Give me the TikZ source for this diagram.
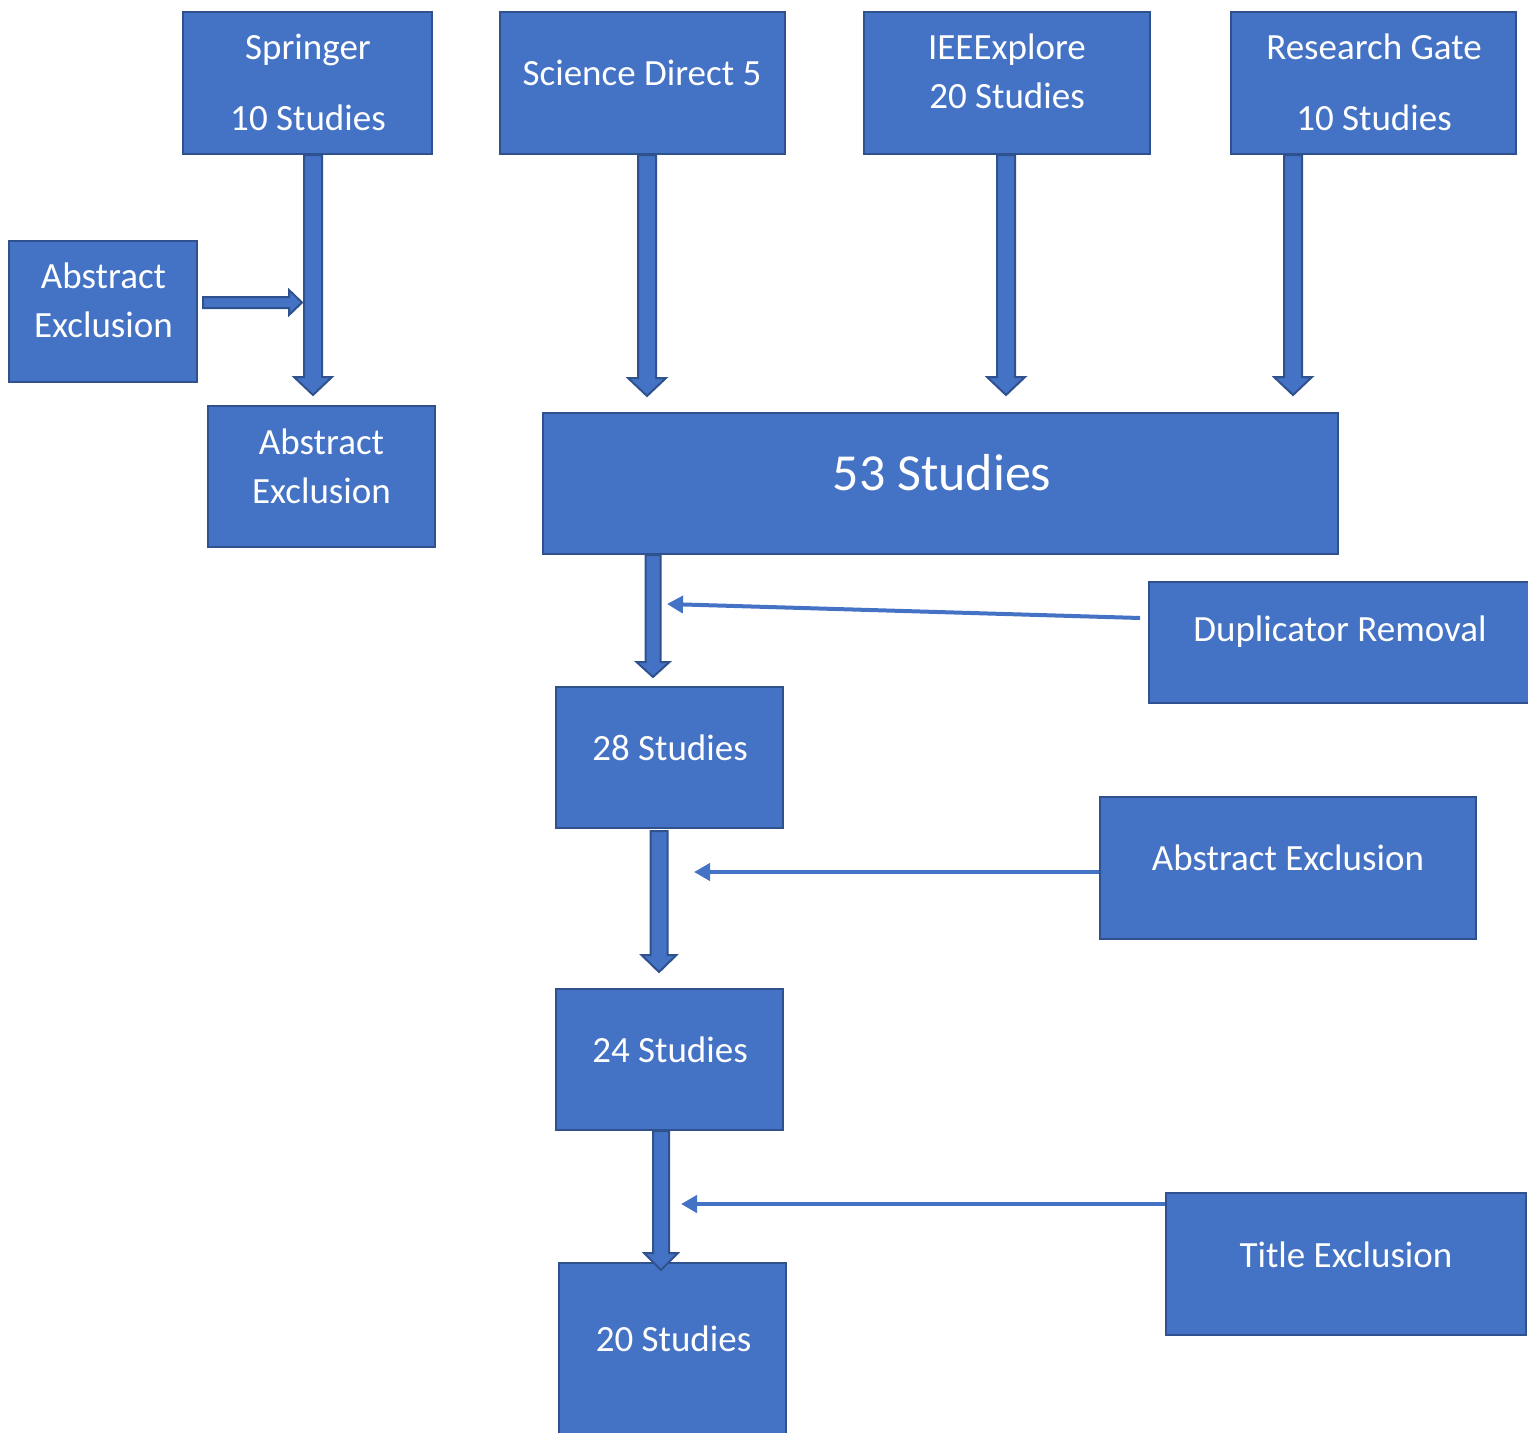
\documentclass[tikz,border=0pt]{standalone}
\usepackage{fontspec}
\setmainfont{Carlito}
\usetikzlibrary{calc,arrows.meta}
\definecolor{BoxBlue}{HTML}{4472C4}
\definecolor{BoxEdge}{HTML}{2F528F}

% block arrow pointing down: start, tip, shaft half width, head half width, head length
\newcommand{\blockdown}[5]{%
  \draw[blockarrow] ($(#1)+(-#3,0)$) -- ($(#2)+(-#3,-#5)$) -- ($(#2)+(-#4,-#5)$) -- (#2)
    -- ($(#2)+(#4,-#5)$) -- ($(#2)+(#3,-#5)$) -- ($(#1)+(#3,0)$) -- cycle;}
% block arrow pointing right
\newcommand{\blockright}[5]{%
  \draw[blockarrow] ($(#1)+(0,-#3)$) -- ($(#2)+(-#5,-#3)$) -- ($(#2)+(-#5,-#4)$) -- (#2)
    -- ($(#2)+(-#5,#4)$) -- ($(#2)+(-#5,#3)$) -- ($(#1)+(0,#3)$) -- cycle;}

\begin{document}
\begin{tikzpicture}[x=1pt, y=-1pt,
  box/.style={draw=BoxEdge, fill=BoxBlue, line width=2pt, inner sep=0pt},
  txt/.style={text=white, align=center, font=\fontsize{37}{49}\selectfont},
  blockarrow/.style={fill=BoxBlue, draw=BoxEdge, line width=2pt, line join=miter},
  thinarrow/.style={draw=BoxBlue, line width=4pt, -{Triangle[length=16pt, width=17pt]}}]
\useasboundingbox (0,0) rectangle (1528,1432);
\clip (0,0) rectangle (1528,1432);

% sources
\node[box, minimum width=249, minimum height=142] (springer) at (307.5,83) {};
\node[txt] (springer-t) at (308,82.5) {Springer\\[22pt]10 Studies};
\node[box, minimum width=285, minimum height=142] (scidirect) at (642.5,83) {};
\node[txt] (scidirect-t) at (642,73) {Science Direct 5};
\node[box, minimum width=286, minimum height=142] (ieee) at (1007,83) {};
\node[txt] (ieee-t) at (1007,71.5) {IEEExplore\\20 Studies};
\node[box, minimum width=285, minimum height=142] (rgate) at (1373.5,83) {};
\node[txt] (rgate-t) at (1374,82.5) {Research Gate\\[22pt]10 Studies};

% springer branch
\node[box, minimum width=188, minimum height=141] (absl) at (103,311.5) {};
\node[txt] (absl-t) at (103.5,300.5) {Abstract\\Exclusion};
\node[box, minimum width=227, minimum height=141] (abss) at (321.5,476.5) {};
\node[txt] (abss-t) at (321.5,466.5) {Abstract\\Exclusion};

% main flow
\node[box, minimum width=795, minimum height=141] (s53) at (940.5,483.5) {};
\node[txt, font=\fontsize{52}{60}\selectfont] (s53-t) at (942,473) {53 Studies};
\node[box, minimum width=385, minimum height=121] (dup) at (1341.5,642.5) {};
\node[txt] (dup-t) at (1340,632) {Duplicator Removal};
\node[box, minimum width=227, minimum height=141] (s28) at (669.5,757.5) {};
\node[txt] (s28-t) at (670,748) {28 Studies};
\node[box, minimum width=376, minimum height=142] (absr) at (1288,868) {};
\node[txt] (absr-t) at (1288,858) {Abstract Exclusion};
\node[box, minimum width=227, minimum height=141] (s24) at (669.5,1059.5) {};
\node[txt] (s24-t) at (670,1050) {24 Studies};
\node[box, minimum width=360, minimum height=142] (title) at (1346,1264) {};
\node[txt] (title-t) at (1346,1255) {Title Exclusion};
\node[box, minimum width=227, minimum height=190] (s20) at (672.5,1358) {};
\node[txt] (s20-t) at (673.5,1339) {20 Studies};

% arrow end points
\coordinate (springer-tip) at (313,395);
\coordinate (scidirect-tip) at (647,396);
\coordinate (ieee-tip) at (1006,395);
\coordinate (rgate-tip) at (1293,395);
\coordinate (absl-tip) at (302,302.5);
\coordinate (s53-tip) at (653,677);
\coordinate (s28-tip) at (659,972);
\coordinate (s24-tip) at (661,1270);
\coordinate (dup-tip) at (667,604);
\coordinate (absr-tip) at (694,872);
\coordinate (title-tip) at (681,1204);

\coordinate (springer-out) at (springer.south -| springer-tip);
\coordinate (scidirect-out) at (scidirect.south -| scidirect-tip);
\coordinate (ieee-out) at (ieee.south -| ieee-tip);
\coordinate (rgate-out) at (rgate.south -| rgate-tip);
\coordinate (absl-out) at ([xshift=5pt]absl.east |- absl-tip);
\coordinate (s53-out) at (s53.south -| s53-tip);
\coordinate (s28-out) at ([yshift=-2pt]s28.south -| s28-tip);
\coordinate (s24-out) at (s24.south -| s24-tip);

% block arrows
\blockdown{springer-out}{springer-tip}{9}{19}{18}
\blockdown{scidirect-out}{scidirect-tip}{9}{19}{18}
\blockdown{ieee-out}{ieee-tip}{9}{19}{18}
\blockdown{rgate-out}{rgate-tip}{9}{19}{18}
\blockright{absl-out}{absl-tip}{5.5}{12.5}{13}
\blockdown{s53-out}{s53-tip}{7.5}{16.5}{15}
\blockdown{s28-out}{s28-tip}{8.5}{17.5}{17}
\blockdown{s24-out}{s24-tip}{8}{17}{17}

% exclusion arrows
\draw[thinarrow] ($(dup.west)+(-8,-24.5)$) -- (dup-tip);
\draw[thinarrow] (absr.west |- absr-tip) -- (absr-tip);
\draw[thinarrow] (title.west |- title-tip) -- (title-tip);
\end{tikzpicture}
\end{document}
